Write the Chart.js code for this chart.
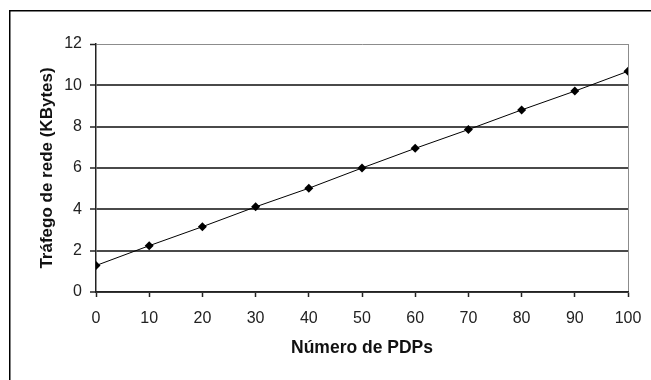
<!DOCTYPE html>
<html>
<head>
<meta charset="utf-8">
<script src="https://cdn.jsdelivr.net/npm/chart.js@4/dist/chart.umd.min.js"></script>
<style>
    html, body { margin: 0; padding: 0; background: #ffffff; }
    #wrap { width: 651px; height: 380px; position: relative; }
</style>
</head>
<body>
<div id="wrap"><canvas id="traffic-chart"></canvas></div>
<script>
// Traffic measured for each number of PDPs
const pdpCounts = [0, 10, 20, 30, 40, 50, 60, 70, 80, 90, 100];
const trafficKB = [1.28, 2.24, 3.16, 4.12, 5.02, 6.0, 6.95, 7.86, 8.81, 9.72, 10.68];
const yTicks = [0, 2, 4, 6, 8, 10, 12];

const FONT = '"Liberation Sans", Arial, sans-serif';

// Outer frame around the whole chart area (Excel style)
const framePlugin = {
    id: 'frame',
    afterDraw(chart) {
        const ctx = chart.ctx;
        ctx.save();
        ctx.strokeStyle = '#000';
        ctx.lineWidth = 1.5;
        ctx.strokeRect(9.75, 10.75, 700, 500);
        ctx.restore();
    }
};

const ctx = document.getElementById('traffic-chart').getContext('2d');
const chart = new Chart(ctx, {
    type: 'line',
    data: {
        datasets: [{
            data: pdpCounts.map((x, i) => ({ x: x, y: trafficKB[i] })),
            borderColor: '#000',
            borderWidth: 1,
            backgroundColor: '#000',
            pointStyle: 'rectRot',
            pointRadius: 4.5,
            pointBorderWidth: 0,
            pointBackgroundColor: '#000',
            tension: 0
        }]
    },
    options: {
        responsive: true,
        maintainAspectRatio: false,
        animation: false,
        layout: { padding: { top: 44, right: 23, left: 0, bottom: 0 } },
        plugins: {
            legend: { display: false },
            tooltip: { enabled: false }
        },
        scales: {
            x: {
                type: 'linear',
                min: 0,
                max: 100,
                afterFit: scale => {
                    scale.height = 88;
                    scale.paddingLeft = 0;
                    scale.paddingRight = 0;
                },
                afterBuildTicks: scale => { scale.ticks = pdpCounts.map(v => ({ value: v })); },
                border: { color: '#222', width: 1.5 },
                grid: {
                    color: c => (c.tick && c.tick.value === 100 ? '#8c8c8c' : 'rgba(0,0,0,0)'),
                    tickColor: '#222',
                    tickWidth: 1.5,
                    tickLength: 5
                },
                ticks: {
                    color: '#222',
                    padding: 12,
                    maxRotation: 0,
                    font: { family: FONT, size: 16 }
                },
                title: {
                    display: true,
                    text: 'Número de PDPs',
                    color: '#111',
                    padding: { bottom: 21 },
                    font: { family: FONT, size: 17.5, weight: 'bold' }
                }
            },
            y: {
                min: 0,
                max: 12,
                afterFit: scale => {
                    scale.width = 96;
                    scale.paddingTop = 0;
                    scale.paddingBottom = 0;
                },
                afterBuildTicks: scale => { scale.ticks = yTicks.map(v => ({ value: v })); },
                border: { color: '#222', width: 1.5 },
                grid: {
                    color: c => (c.tick && c.tick.value === 12 ? '#8c8c8c' : '#4a4a4a'),
                    lineWidth: c => (c.tick && c.tick.value === 12 ? 1 : 2),
                    tickColor: '#222',
                    tickWidth: 1.5,
                    tickLength: 6
                },
                ticks: {
                    color: '#222',
                    padding: 8,
                    font: { family: FONT, size: 16 }
                },
                title: {
                    display: true,
                    text: 'Tráfego de rede (KBytes)',
                    color: '#111',
                    padding: { top: 37 },
                    font: { family: FONT, size: 17, weight: 'bold' }
                }
            }
        }
    },
    plugins: [framePlugin]
});
</script>
</body>
</html>
